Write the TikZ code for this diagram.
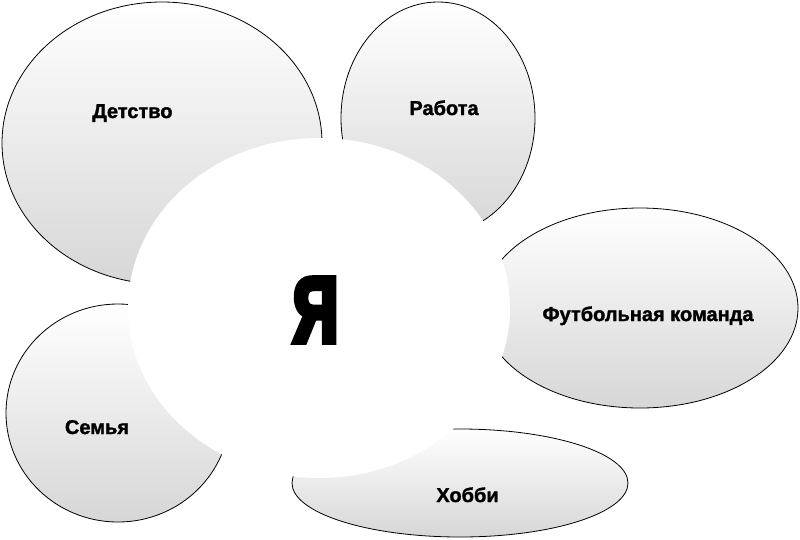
\documentclass[tikz,border=0pt]{standalone}
\usepackage{fontspec}
\setmainfont{Liberation Sans}
\newfontfamily\mefont{LiberationSans-Bold.ttf}[FakeStretch=0.66, FakeBold=6]
\newfontfamily\lblfont{LiberationSans-Bold.ttf}[FakeBold=1.5]
\usetikzlibrary{shapes.geometric}

\tikzset{
    bubble/.style={ellipse, draw=black, line width=0.8pt, top color=white, bottom color=gray!32, inner sep=0pt},
    core/.style={ellipse, fill=white, inner sep=0pt},
    lbl/.style={anchor=base, font=\lblfont\fontsize{20}{20}\selectfont, inner sep=0pt}
}

\begin{document}
\begin{tikzpicture}[x=1pt, y=-1pt]
    \useasboundingbox (0,0) rectangle (800,539);

    % Bubbles {detstvo, rabota, futbol, semya, hobbi}
    \node [bubble, minimum width=320pt, minimum height=282pt] (detstvo) at (162,143) {};
    \node [bubble, minimum width=194pt, minimum height=232pt] (rabota)  at (438,118) {};
    \node [bubble, minimum width=316pt, minimum height=200pt] (futbol)  at (640,308) {};
    \node [bubble, minimum width=224pt, minimum height=218pt] (semya)   at (118,413) {};
    \node [bubble, minimum width=336pt, minimum height=108pt] (hobbi)   at (460,483) {};

    % Centre
    \node [core, minimum width=382pt, minimum height=340pt]   (me)      at (319,308) {};

    % Labels
    \node [lbl] at ([shift={(-29.5,-25)}]detstvo.center) {Детство};
    \node [lbl] at ([shift={(6,-3)}]rabota.center)       {Работа};
    \node [lbl] at ([shift={(8,13)}]futbol.center)       {Футбольная команда};
    \node [lbl] at ([shift={(-21,21)}]semya.center)      {Семья};
    \node [lbl] at ([shift={(7.5,19)}]hobbi.center)      {Хобби};
    \node [anchor=base, inner sep=0pt, font=\mefont\fontsize{93}{93}\selectfont]
          at ([shift={(-3.5,34)}]me.center) {Я};

\end{tikzpicture}
\end{document}
